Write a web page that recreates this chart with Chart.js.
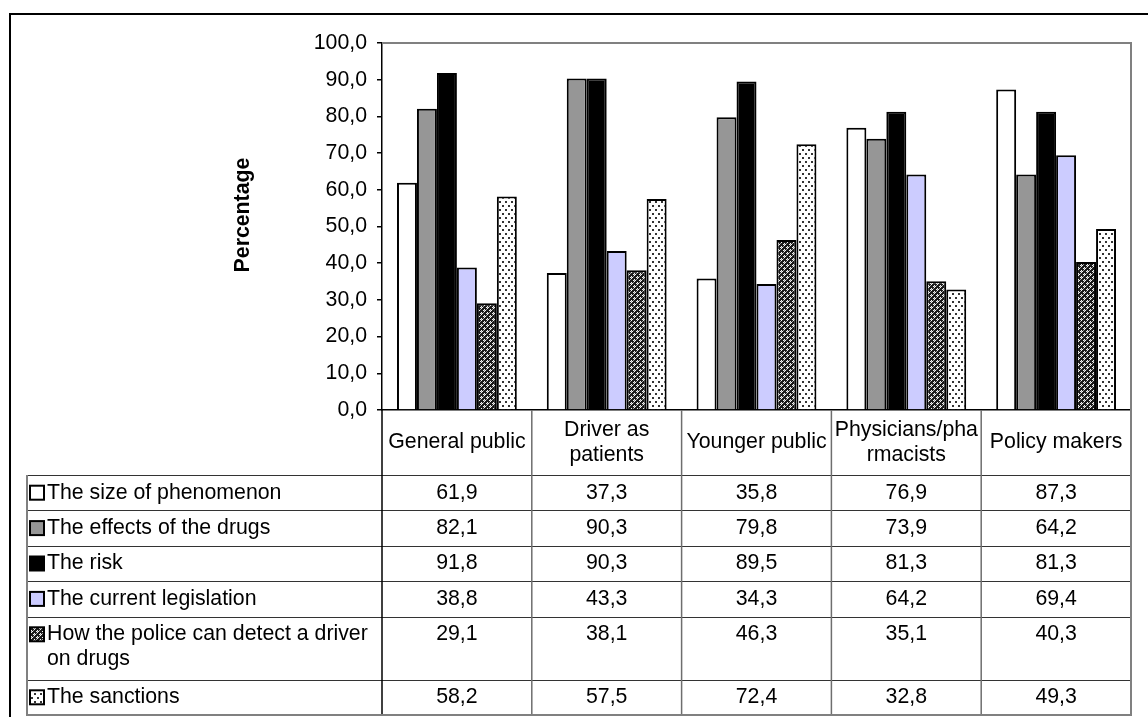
<!DOCTYPE html>
<html>
<head>
<meta charset="utf-8">
<script src="https://cdn.jsdelivr.net/npm/chart.js@4.4.1/dist/chart.umd.min.js"></script>
<style>
  html, body { margin: 0; padding: 0; background: #fff; }
  canvas { display: block; }
</style>
</head>
<body>
<canvas id="chart" width="1148" height="717"></canvas>
<script>
// Target groups (multi-line labels as drawn in the header row)
const categories = [
  ["General public"],
  ["Driver as", "patients"],
  ["Younger public"],
  ["Physicians/pha", "rmacists"],
  ["Policy makers"]
];

// Series names shown in the legend column of the data table
const seriesNames = [
  ["The size of phenomenon"],
  ["The effects of the drugs"],
  ["The risk"],
  ["The current legislation"],
  ["How the police can detect a driver", "on drugs"],
  ["The sanctions"]
];

// Percentages per series, one value per target group
const sizeOfPhenomenon = [61.9, 37.3, 35.8, 76.9, 87.3];
const effectsOfDrugs   = [82.1, 90.3, 79.8, 73.9, 64.2];
const theRisk          = [91.8, 90.3, 89.5, 81.3, 81.3];
const legislation      = [38.8, 43.3, 34.3, 64.2, 69.4];
const policeDetection  = [29.1, 38.1, 46.3, 35.1, 40.3];
const sanctions        = [58.2, 57.5, 72.4, 32.8, 49.3];

// Value axis tick positions
const yTickValues = [0, 10, 20, 30, 40, 50, 60, 70, 80, 90, 100];

const FAMILY = '"Liberation Sans", Arial, sans-serif';
const FONT_PX = 21.3;
const fmt = v => Number(v).toFixed(1).replace('.', ',');

const ctxMain = document.getElementById('chart').getContext('2d');

// Diamond lattice fill for the police-detection series
const lattice = (() => {
  const c = document.createElement('canvas');
  c.width = 6; c.height = 6;
  const g = c.getContext('2d');
  g.fillStyle = '#1a1a1a'; g.fillRect(0, 0, 6, 6);
  g.fillStyle = '#f4f4f4';
  [[1,0],[0,1],[2,1],[1,2],[4,3],[3,4],[5,4],[4,5]].forEach(([x, y]) => g.fillRect(x, y, 1, 1));
  g.fillStyle = '#a0a0a0';
  [[1,1],[4,4],[0,3],[3,0]].forEach(([x, y]) => g.fillRect(x, y, 1, 1));
  return ctxMain.createPattern(c, 'repeat');
})();

// Sparse dot fill for the sanctions series
const dots = (() => {
  const c = document.createElement('canvas');
  c.width = 6; c.height = 8;
  const g = c.getContext('2d');
  g.fillStyle = '#fff'; g.fillRect(0, 0, 6, 8);
  g.fillStyle = '#333';
  g.fillRect(1, 1, 2, 2); g.fillRect(4, 5, 2, 2);
  return ctxMain.createPattern(c, 'repeat');
})();

const seriesValues = [sizeOfPhenomenon, effectsOfDrugs, theRisk, legislation, policeDetection, sanctions];
const seriesFills = ['#ffffff', '#969696', '#000000', '#ccccff', lattice, dots];

const datasets = seriesValues.map((vals, i) => ({
  label: seriesNames[i].join(' '),
  data: vals,
  backgroundColor: seriesFills[i],
  borderColor: '#000',
  borderWidth: 2,
  categoryPercentage: 0.8,
  barPercentage: 1.0
}));

// Frame, axis title, plot border and the data table under the bars
const decorations = {
  id: 'decorations',
  afterDraw(chart) {
    const ctx = chart.ctx;
    const area = chart.chartArea;
    const n = categories.length;
    const colW = (area.right - area.left) / n;

    ctx.save();

    // outer chart frame
    ctx.strokeStyle = '#000';
    ctx.lineWidth = 2;
    ctx.strokeRect(10, 14, 1200, 800);

    // plot area border (top and right)
    ctx.strokeStyle = '#808080';
    ctx.lineWidth = 2;
    ctx.beginPath();
    ctx.moveTo(area.left, area.top);
    ctx.lineTo(area.right, area.top);
    ctx.lineTo(area.right, area.bottom);
    ctx.stroke();

    // value axis title
    ctx.save();
    ctx.translate(243, 215);
    ctx.rotate(-Math.PI / 2);
    ctx.font = 'bold ' + FONT_PX + 'px ' + FAMILY;
    ctx.fillStyle = '#000';
    ctx.textAlign = 'center';
    ctx.textBaseline = 'middle';
    ctx.fillText('Percentage', 0, 0);
    ctx.restore();

    // table geometry
    const headerTop = area.bottom;
    const headerBottom = 475;
    const tableLeft = 27;
    const singleRow = 35.4, doubleRow = 63;
    const lineGap = 25;
    const rowTops = [];
    let y = headerBottom;
    seriesNames.forEach(name => {
      rowTops.push(y);
      y += name.length > 1 ? doubleRow : singleRow;
    });
    const tableBottom = y;

    // horizontal rules
    ctx.strokeStyle = '#333';
    ctx.lineWidth = 1;
    rowTops.forEach(t => {
      ctx.beginPath();
      ctx.moveTo(tableLeft, Math.round(t) + 0.5);
      ctx.lineTo(area.right, Math.round(t) + 0.5);
      ctx.stroke();
    });

    // vertical rules between columns
    for (let i = 1; i < n; i++) {
      const x = area.left + i * colW;
      ctx.strokeStyle = '#6e6e6e';
      ctx.lineWidth = 1.5;
      ctx.beginPath();
      ctx.moveTo(x, headerTop);
      ctx.lineTo(x, tableBottom);
      ctx.stroke();
    }
    ctx.strokeStyle = '#000';
    ctx.lineWidth = 1.5;
    ctx.beginPath();
    ctx.moveTo(area.left, headerTop);
    ctx.lineTo(area.left, tableBottom);
    ctx.stroke();

    // outer table border
    ctx.strokeStyle = '#808080';
    ctx.lineWidth = 2;
    ctx.beginPath();
    ctx.moveTo(tableLeft, headerBottom);
    ctx.lineTo(tableLeft, tableBottom);
    ctx.lineTo(area.right, tableBottom);
    ctx.lineTo(area.right, headerTop);
    ctx.stroke();

    ctx.font = FONT_PX + 'px ' + FAMILY;
    ctx.fillStyle = '#000';
    ctx.textBaseline = 'middle';

    // header row: category names
    ctx.textAlign = 'center';
    const xScale = chart.scales.x;
    const headerMid = (headerTop + headerBottom) / 2;
    categories.forEach((lines, i) => {
      const cx = xScale.getPixelForValue(i);
      const y0 = headerMid - (lines.length - 1) * lineGap / 2;
      lines.forEach((ln, k) => ctx.fillText(ln, cx, y0 + k * lineGap));
    });

    // data rows: legend key + values
    seriesNames.forEach((lines, r) => {
      const top = rowTops[r];
      const cy = top + singleRow / 2;
      // legend key
      ctx.fillStyle = seriesFills[r];
      ctx.fillRect(30, cy - 7, 14, 14);
      ctx.strokeStyle = '#000';
      ctx.lineWidth = 2;
      ctx.strokeRect(30, cy - 7, 14, 14);
      // series name
      ctx.fillStyle = '#000';
      ctx.textAlign = 'left';
      lines.forEach((ln, k) => ctx.fillText(ln, 47, cy + k * lineGap));
      // values
      ctx.textAlign = 'center';
      seriesValues[r].forEach((v, i) => {
        ctx.fillText(fmt(v), xScale.getPixelForValue(i), cy);
      });
    });

    ctx.restore();
  }
};

new Chart(ctxMain, {
  type: 'bar',
  data: {
    labels: categories.map(c => c.join(' ')),
    datasets
  },
  options: {
    responsive: false,
    animation: false,
    devicePixelRatio: 1,
    layout: { padding: { top: 43, right: 17, left: 0, bottom: 0 } },
    plugins: {
      legend: { display: false },
      tooltip: { enabled: false }
    },
    scales: {
      x: {
        grid: { display: false },
        border: { display: true, color: '#000', width: 1.5 },
        ticks: { display: false },
        afterFit(s) { s.height = 307; }
      },
      y: {
        min: 0,
        max: 100,
        afterBuildTicks(s) { s.ticks = yTickValues.map(v => ({ value: v })); },
        ticks: {
          callback: v => fmt(v),
          color: '#000',
          padding: 10,
          font: { family: FAMILY, size: FONT_PX }
        },
        grid: { drawOnChartArea: false, drawTicks: true, tickLength: 5, color: '#000', lineWidth: 1.5 },
        border: { display: true, color: '#000', width: 1.5 },
        afterFit(s) { s.width = 382; }
      }
    }
  },
  plugins: [decorations]
});
</script>
</body>
</html>
